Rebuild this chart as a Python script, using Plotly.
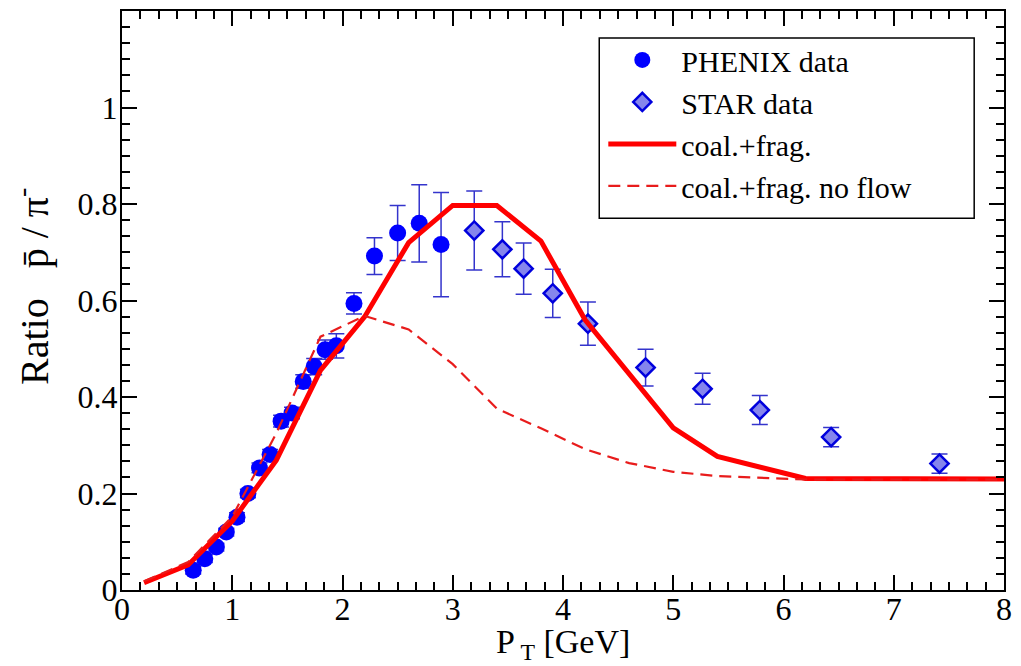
import plotly.graph_objects as go

# PHENIX data (circles)
phenix_x = [0.646, 0.751, 0.856, 0.946, 1.043, 1.142, 1.247, 1.343, 1.443, 1.542,
            1.644, 1.743, 1.842, 1.944, 2.104, 2.290, 2.500, 2.696, 2.894]
phenix_y = [0.041, 0.065, 0.089, 0.120, 0.151, 0.200, 0.253, 0.281, 0.350, 0.367,
            0.432, 0.463, 0.498, 0.506, 0.594, 0.692, 0.740, 0.760, 0.716]
phenix_err = [0.008, 0.008, 0.008, 0.008, 0.009, 0.009, 0.010, 0.010, 0.012, 0.012,
              0.014, 0.017, 0.020, 0.025, 0.022, 0.038, 0.057, 0.080, 0.108]

# STAR data (diamonds)
star_x = [3.195, 3.450, 3.643, 3.907, 4.226, 4.749, 5.266, 5.785, 6.432, 7.415]
star_y = [0.745, 0.706, 0.666, 0.615, 0.552, 0.461, 0.417, 0.373, 0.317, 0.262]
star_err = [0.082, 0.057, 0.053, 0.050, 0.045, 0.038, 0.032, 0.030, 0.020, 0.020]

# coal.+frag.
cf_x = [0.2, 0.6, 1.0, 1.4, 1.8, 2.2, 2.6, 3.0, 3.4, 3.8, 4.2, 5.0, 5.4, 6.2, 8.0]
cf_y = [0.015, 0.052, 0.143, 0.269, 0.455, 0.566, 0.720, 0.797, 0.797, 0.723,
        0.560, 0.336, 0.277, 0.231, 0.230]

# coal.+frag. no flow
nf_x = [0.2, 0.6, 1.0, 1.4, 1.8, 2.2, 2.6, 3.0, 3.4, 3.8, 4.2, 4.6, 5.0, 5.4, 6.2, 8.0]
nf_y = [0.018, 0.058, 0.152, 0.325, 0.525, 0.568, 0.540, 0.468, 0.376, 0.335,
        0.292, 0.263, 0.245, 0.236, 0.229, 0.229]

x_ticks = [0, 1, 2, 3, 4, 5, 6, 7, 8]
y_ticks = [0, 0.2, 0.4, 0.6, 0.8, 1.0]
y_ticklabels = ["0", "0.2", "0.4", "0.6", "0.8", "1"]

SERIF = "Liberation Serif"

fig = go.Figure()

fig.add_trace(go.Scatter(
    x=phenix_x, y=phenix_y, mode="markers", name="PHENIX data",
    marker=dict(symbol="circle", size=17, color="#0000ff", line=dict(width=0)),
    error_y=dict(type="data", array=phenix_err, color="#3434cc", thickness=1.5, width=8),
))
fig.add_trace(go.Scatter(
    x=star_x, y=star_y, mode="markers", name="STAR data",
    marker=dict(symbol="diamond", size=14, color="#8585ec",
                line=dict(width=2.5, color="#0000dd")),
    error_y=dict(type="data", array=star_err, color="#3434cc", thickness=1.5, width=8),
))
fig.add_trace(go.Scatter(
    x=cf_x, y=cf_y, mode="lines", name="coal.+frag.",
    line=dict(color="#ff0000", width=5),
))
fig.add_trace(go.Scatter(
    x=nf_x, y=nf_y, mode="lines", name="coal.+frag. no flow",
    line=dict(color="#e81c1c", width=2.2, dash="12px,7px"),
))

axis_common = dict(
    showline=True, linecolor="black", linewidth=2, mirror="ticks",
    ticks="inside", ticklen=15, tickwidth=1.5, tickcolor="black",
    showgrid=False, zeroline=False,
    tickfont=dict(family=SERIF, size=32, color="black"),
)

fig.update_xaxes(
    range=[0, 8], tickvals=x_ticks, ticklabelstandoff=-10,
    minor=dict(dtick=1/6, ticks="inside", ticklen=8, tickwidth=1.5, tickcolor="black", showgrid=False),
    **axis_common,
)
fig.update_yaxes(
    range=[0, 1.2], tickvals=y_ticks, ticktext=y_ticklabels, ticklabelstandoff=-4,
    minor=dict(dtick=0.2/6, ticks="inside", ticklen=8, tickwidth=1.5, tickcolor="black", showgrid=False),
    **axis_common,
)

fig.add_annotation(
    text="P<sub> T</sub> [GeV]", xref="paper", yref="paper", x=0.5, y=-0.054,
    xanchor="center", yanchor="top", showarrow=False,
    font=dict(family=SERIF, size=34, color="black"),
)
fig.add_annotation(
    text="Ratio\u00a0\u00a0\u00a0p\u0304\u00a0/\u00a0\u03c0<sup>-</sup>", xref="paper", yref="paper",
    x=-0.072, y=0.525, xanchor="right", yanchor="middle", textangle=-90, showarrow=False,
    font=dict(family=SERIF, size=40, color="black"),
)

# legend frame
fig.add_shape(
    type="rect", xref="paper", yref="paper", x0=0.5411, x1=0.9662, y0=0.642, y1=0.9535,
    line=dict(color="black", width=1.5), fillcolor="white", layer="above",
)

fig.update_layout(
    width=1021, height=666,
    margin=dict(l=122, r=12, t=9, b=76),
    paper_bgcolor="white", plot_bgcolor="white",
    font=dict(family=SERIF),
    showlegend=True,
    legend=dict(
        x=0.5457, y=0.9604, xanchor="left", yanchor="top",
        bgcolor="rgba(0,0,0,0)", borderwidth=0,
        font=dict(family=SERIF, size=30, color="black"),
        itemwidth=68, tracegroupgap=0,
    ),
)

fig.write_html("out.html")
